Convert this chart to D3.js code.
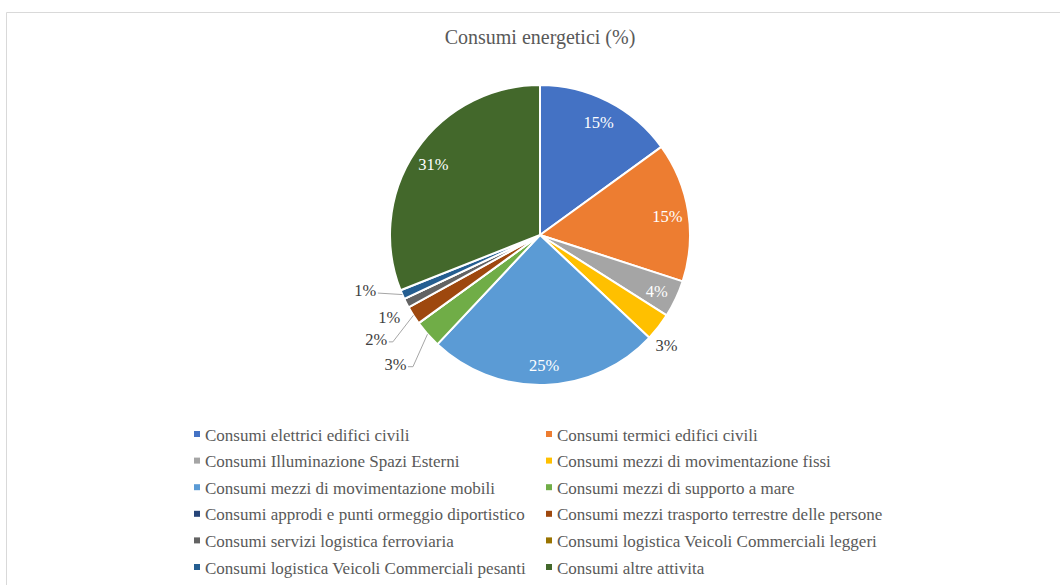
<!DOCTYPE html>
<html>
<head>
<meta charset="utf-8">
<script src="https://cdn.jsdelivr.net/npm/d3@7"></script>
<style>
  html, body { margin: 0; padding: 0; background: #ffffff; }
  svg { display: block; }
  text { font-family: "Liberation Serif", "Times New Roman", serif; }
</style>
</head>
<body>
<svg id="chart" width="1060" height="585"></svg>
<script>
// Energy consumption shares by category (percent)
const categories = [
  "Consumi elettrici edifici civili",
  "Consumi termici edifici civili",
  "Consumi Illuminazione Spazi Esterni",
  "Consumi mezzi di movimentazione fissi",
  "Consumi mezzi di movimentazione mobili",
  "Consumi mezzi di supporto a mare",
  "Consumi approdi e punti ormeggio diportistico",
  "Consumi mezzi trasporto terrestre delle persone",
  "Consumi servizi logistica ferroviaria",
  "Consumi logistica Veicoli Commerciali leggeri",
  "Consumi logistica Veicoli Commerciali pesanti",
  "Consumi altre attivita"
];
const values = [15, 15, 4, 3, 25, 3, 0, 2, 1, 0, 1, 31];
const colors = [
  "#4472C4", "#ED7D31", "#A5A5A5", "#FFC000", "#5B9BD5", "#70AD47",
  "#264478", "#9E480E", "#636363", "#997300", "#255E91", "#43682B"
];
const chartTitle = "Consumi energetici (%)";

// Labels drawn outside the pie: offset of the label centre from the slice's rim point,
// and whether a leader line (with a short horizontal foot) connects them.
const outsideLabels = {
  3:  { dx: 8,   dy: 19, leader: false },
  5:  { dx: -32, dy: 30, leader: true, foot: 5 },
  7:  { dx: -37, dy: 24, leader: true, foot: 4 },
  8:  { dx: -17, dy: 14, leader: false },
  10: { dx: -37, dy: -4, leader: true, foot: 0 }
};

const svg = d3.select("#chart");
const W = 1060, H = 585;

// Chart area frame (top and left edges visible)
svg.append("path")
  .attr("d", `M6.5,${H} L6.5,12.5 L${W},12.5`)
  .attr("fill", "none")
  .attr("stroke", "#d9d9d9")
  .attr("stroke-width", 1);

// Title
svg.append("text")
  .attr("x", 540)
  .attr("y", 44)
  .attr("text-anchor", "middle")
  .attr("font-size", 20)
  .attr("fill", "#595959")
  .text(chartTitle);

const cx = 540, cy = 235, R = 150;
const g = svg.append("g").attr("transform", `translate(${cx},${cy})`);

const data = categories.map((c, i) => ({ name: c, value: values[i], color: colors[i], index: i }));

const pie = d3.pie().value(d => d.value).sort(null);
const arcs = pie(data);
const arc = d3.arc().innerRadius(0).outerRadius(R);

g.selectAll("path.slice")
  .data(arcs)
  .join("path")
  .attr("class", "slice")
  .attr("d", arc)
  .attr("fill", d => d.data.color)
  .attr("stroke", "#ffffff")
  .attr("stroke-width", 2)
  .attr("stroke-linejoin", "round");

const pct = d => `${d.data.value}%`;
const mid = d => (d.startAngle + d.endAngle) / 2;
const rimPoint = (d, r) => [r * Math.sin(mid(d)), -r * Math.cos(mid(d))];

// Inside labels
const insideArcs = arcs.filter(d => d.data.value > 0 && !(d.data.index in outsideLabels));
g.selectAll("text.inside")
  .data(insideArcs)
  .join("text")
  .attr("class", "inside")
  .attr("x", d => rimPoint(d, R * 0.86)[0])
  .attr("y", d => rimPoint(d, R * 0.86)[1] + 2)
  .attr("text-anchor", "middle")
  .attr("dominant-baseline", "central")
  .attr("font-size", 16.5)
  .attr("fill", "#ffffff")
  .text(pct);

// Outside labels with leader lines
const outArcs = arcs.filter(d => d.data.value > 0 && (d.data.index in outsideLabels));
const labelW = 22;
outArcs.forEach(d => {
  const cfg = outsideLabels[d.data.index];
  const [ax, ay] = rimPoint(d, R);
  const lx = ax + cfg.dx, ly = ay + cfg.dy;
  if (cfg.leader) {
    const footStartX = lx + labelW / 2 + 1.5;
    const footY = ly + 2.5;
    const pts = [[footStartX, footY], [footStartX + cfg.foot, footY], [ax, ay]];
    g.append("path")
      .attr("d", d3.line()(pts))
      .attr("fill", "none")
      .attr("stroke", "#a6a6a6")
      .attr("stroke-width", 1);
  }
  g.append("text")
    .attr("x", lx)
    .attr("y", ly)
    .attr("text-anchor", "middle")
    .attr("dominant-baseline", "central")
    .attr("font-size", 16.5)
    .attr("fill", "#404040")
    .text(pct(d));
});

// Legend: two columns, row-major order
const legendX = [197, 549];
const legendY0 = 434, legendDy = 26.6;
const legend = svg.append("g");
data.forEach((d, i) => {
  const col = i % 2, row = Math.floor(i / 2);
  const x = legendX[col], y = legendY0 + row * legendDy;
  legend.append("rect")
    .attr("x", x - 3).attr("y", y - 3)
    .attr("width", 6).attr("height", 6)
    .attr("fill", d.color);
  legend.append("text")
    .attr("x", x + 8)
    .attr("y", y + 1)
    .attr("dominant-baseline", "central")
    .attr("font-size", 17)
    .attr("fill", "#595959")
    .text(d.name);
});
</script>
</body>
</html>
